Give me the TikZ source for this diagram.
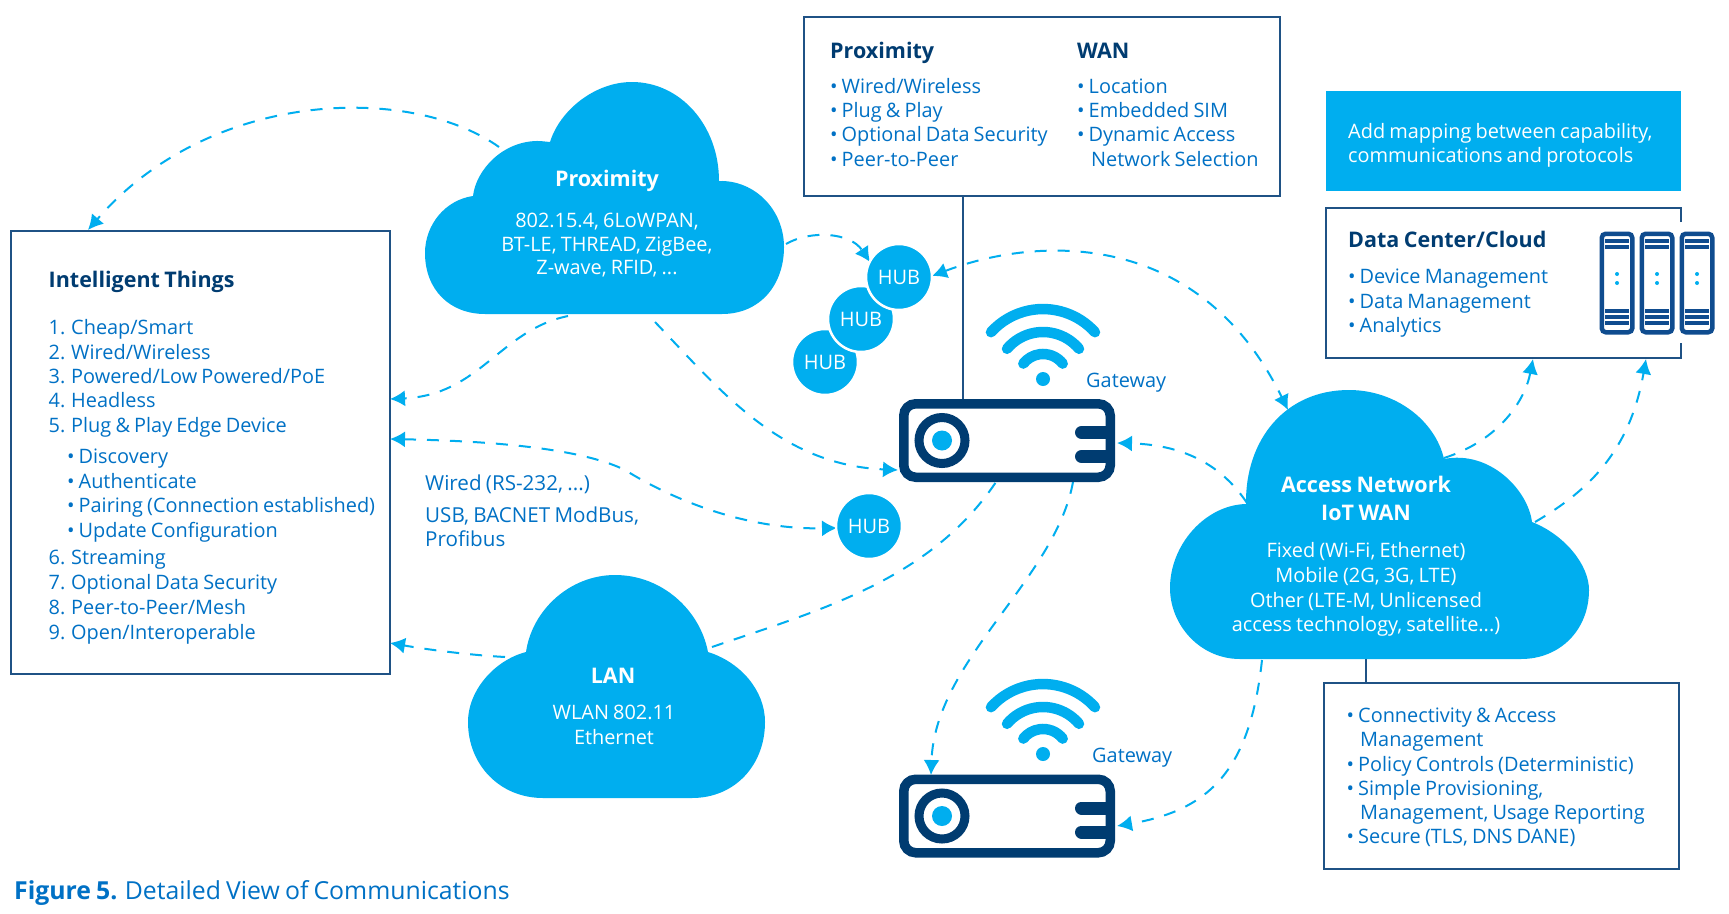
\documentclass[tikz,border=0pt]{standalone}
\usepackage{fontspec}
\setmainfont[WordSpace=0.8]{Open Sans}
\usetikzlibrary{arrows.meta}
\definecolor{sky}{HTML}{00AEEF}
\definecolor{navy}{HTML}{003C71}
\definecolor{edge}{HTML}{1F5285}
\definecolor{ink}{HTML}{0071C5}
\definecolor{rack}{HTML}{0F4C8F}
\newcounter{tl}
\newcommand\tline[4]{\stepcounter{tl}\node[#1] (tl\arabic{tl}) at (#2,#3) {#4};}
\newcommand\bul[1]{\makebox[11.5pt][l]{•}#1}
\newcommand\wifiicon[3]{%
  \begin{scope}[shift={(#2,#3)}]
    \fill[sky] (0,0) ellipse [x radius=7pt,y radius=7pt];
    \draw[wave] (52,-46.8) arc[start angle=42,end angle=138,radius=70pt];
    \draw[wave] (36,-30.2) arc[start angle=40,end angle=140,radius=47pt];
    \draw[wave] (19.7,-15.4) arc[start angle=38,end angle=142,radius=25pt];
    \coordinate (#1) at (0,0);
  \end{scope}}
\newcommand\gatewayicon[3]{%
  \node[gwbox] (#1) at (#2,#3) {};
  \begin{scope}[shift={(#2,#3)}]
    \draw[navy,line width=9pt,fill=white] (-65,0) circle [radius=23pt];
    \fill[sky] (-65,0) circle [radius=10pt];
    \draw[navy,line width=13pt,line cap=round] (74.5,-8) -- (99,-8);
    \draw[navy,line width=13pt,line cap=round] (74.5,16) -- (99,16);
  \end{scope}}
\newcommand\servericon[2]{%
  \begin{scope}[shift={(#2,232)}]
    \node[rackbox] (#1) at (17,51) {};
    \foreach \sy in {9,15,79,85,91}{\draw[rack,line width=3.5pt] (5,\sy) -- (29,\sy);}
    \fill[sky] (17,42) circle [radius=2pt] (17,51) circle [radius=2pt];
  \end{scope}}
\tikzset{
  wave/.style={sky,line width=10.5pt,line cap=round},
  gwbox/.style={draw=navy,line width=9.5pt,rounded corners=12pt,fill=white,minimum width=206.5pt,minimum height=73.5pt,inner sep=0pt},
  rackbox/.style={draw=rack,line width=4.5pt,rounded corners=4pt,minimum width=30.5pt,minimum height=98.5pt,inner sep=0pt},
  panel/.style={draw=edge,line width=2pt,fill=white,inner sep=0pt},
  hubnode/.style={circle,fill=sky,draw=white,line width=2.5pt,minimum size=66pt,inner sep=0pt,text=white,font=\fontsize{20}{24}\selectfont},
  flow/.style={sky,line width=2pt,dash pattern=on 12pt off 11pt},
  tip/.style={-{Latex[length=15pt,width=16pt]}},
  twotip/.style={{Latex[length=15pt,width=16pt]}-{Latex[length=15pt,width=16pt]}},
  body/.style={anchor=base west,inner sep=0pt,text=ink,font=\fontsize{19.9}{24}\selectfont},
  head/.style={anchor=base west,inner sep=0pt,text=navy,font=\fontsize{21.5}{26}\selectfont\bfseries},
  wiredtext/.style={anchor=base west,inner sep=0pt,text=ink,font=\fontsize{20.6}{24}\selectfont},
  cloudtext/.style={anchor=base,inner sep=0pt,text=white,font=\fontsize{19.9}{24}\selectfont},
  cloudhead/.style={anchor=base,inner sep=0pt,text=white,font=\fontsize{21.5}{26}\selectfont\bfseries},
  whiteleft/.style={anchor=base west,inner sep=0pt,text=white,font=\fontsize{19.9}{24}\selectfont},
}
\begin{document}
\begin{tikzpicture}[x=1pt,y=-1pt]
\useasboundingbox (0,0) rectangle (1729,913);
\fill[white] (0,0) rectangle (1729,913);

% panels
\node[panel,minimum width=378.5pt,minimum height=443pt] (things) at (200.25,452.5) {};
\node[panel,minimum width=476pt,minimum height=179pt] (radio) at (1042,106.5) {};
\node[fill=sky,inner sep=0pt,minimum width=355pt,minimum height=100pt] (note) at (1503.5,141) {};
\node[panel,minimum width=355pt,minimum height=186pt] (access) at (1501.5,776) {};
\coordinate (dcne) at (1681,222);
\coordinate (dcse) at (1681,343);
\draw[edge,line width=2pt] (dcne) -- (1681,208) -- (1326,208) -- (1326,358) -- (1681,358) -- (dcse);

% named free ends of the connectors
\coordinate (pA) at (499,147);  \coordinate (pB) at (786,244);
\coordinate (pC) at (568,316);  \coordinate (pD) at (655,322);
\coordinate (lanR) at (712,647); \coordinate (lanL) at (505,657);
\coordinate (awA) at (1262,660); \coordinate (awB) at (1247,503);
\coordinate (awC) at (1444,458); \coordinate (awD) at (1535,522);
\coordinate (awE) at (1288,410);
\coordinate (thTop) at (88,230); \coordinate (thA) at (390,399);
\coordinate (thB) at (390,439);  \coordinate (thC) at (390,643);
\coordinate (dcA) at (1533,359); \coordinate (dcB) at (1646,359);
\coordinate (gaL) at (898,470);  \coordinate (gaR) at (1117,443);
\coordinate (gaB) at (996,482);  \coordinate (gaC) at (1073,482);
\coordinate (gbT) at (931,775);  \coordinate (gbR) at (1117,826);
\coordinate (gaLine) at (963,400);

% plain links
\draw[edge,line width=2pt] (gaLine |- radio.south) -- (gaLine);
\draw[edge,line width=2pt] (1366,655) -- (1366,683);

% dashed connectors
\draw[flow,tip] (pA) .. controls (410,84) and (210,89) .. (thTop);
\draw[flow,tip] (pB) .. controls (810,230) and (850,232) .. (870,262);
\draw[flow,tip] (pC) .. controls (500,330) and (480,395) .. (thA);
\draw[flow,tip] (pD) .. controls (720,390) and (780,465) .. (gaL);
\draw[flow,twotip] (thB) .. controls (490,441) and (580,448) .. (625,470) .. controls (665,495) and (740,530) .. (837,528);
\draw[flow] (lanR) .. controls (820,610) and (930,580) .. (gaB);
\draw[flow,tip] (lanL) .. controls (470,655) and (430,650) .. (thC);
\draw[flow,tip] (gaC) .. controls (1055,580) and (935,660) .. (gbT);
\draw[flow,tip] (awA) .. controls (1250,770) and (1210,810) .. (gbR);
\draw[flow,tip] (awB) .. controls (1225,470) and (1190,445) .. (gaR);
\draw[flow,twotip] (932,276) .. controls (1040,235) and (1200,230) .. (awE);
\draw[flow,tip] (awC) .. controls (1500,440) and (1525,400) .. (dcA);
\draw[flow,tip] (awD) .. controls (1590,490) and (1630,450) .. (dcB);

% clouds
\fill[sky] (485,314) .. controls (450,314) and (425,290) .. (425,253) .. controls (425,225) and (445,200) .. (473,196) .. controls (476,170) and (503,140) .. (540,141) -- (550,142) .. controls (560,110) and (595,82) .. (632,82) .. controls (680,82) and (719,125) .. (719,181) .. controls (755,180) and (784,210) .. (784,247) .. controls (784,285) and (760,314) .. (722,314) -- cycle;
\fill[sky] (543,798) .. controls (500,798) and (468,765) .. (468,722) .. controls (468,690) and (495,660) .. (526,652) .. controls (532,610) and (570,575) .. (615,575) .. controls (662,575) and (700,610) .. (708,652) .. controls (740,662) and (765,690) .. (765,722) .. controls (765,765) and (735,798) .. (692,798) -- cycle;
\fill[sky] (1240,659) .. controls (1200,659) and (1170,625) .. (1170,588) .. controls (1170,545) and (1205,505) .. (1246,504) .. controls (1245,440) and (1285,390) .. (1349,390) .. controls (1395,390) and (1435,420) .. (1444,459) .. controls (1490,450) and (1528,490) .. (1532,522) .. controls (1565,535) and (1589,565) .. (1589,590) .. controls (1589,630) and (1560,659) .. (1521,659) -- cycle;

% hubs
\node[hubnode] (hubC) at (825,362) {HUB};
\node[hubnode] (hubB) at (861,319) {HUB};
\node[hubnode] (hubA) at (899,277) {HUB};
\node[hubnode] (hubD) at (869,526) {HUB};

% gateways
\wifiicon{wifiA}{1043}{379}
\wifiicon{wifiB}{1043}{754}
\gatewayicon{gwA}{1007}{440.5}
\gatewayicon{gwB}{1007}{816}
\tline{body}{1086}{387}{Gateway}
\tline{body}{1092}{762}{Gateway}

% servers
\servericon{srvA}{1600}
\servericon{srvB}{1640}
\servericon{srvC}{1680}

% Intelligent Things
\tline{head}{48.5}{287}{Intelligent Things}
\tline{body}{48.5}{334}{1. Cheap/Smart}
\tline{body}{48.5}{359}{2. Wired/Wireless}
\tline{body}{48.5}{383}{3. Powered/Low Powered/PoE}
\tline{body}{48.5}{407}{4. Headless}
\tline{body}{48.5}{432}{5. Plug \& Play Edge Device}
\tline{body}{67}{463}{\bul{Discovery}}
\tline{body}{67}{488}{\bul{Authenticate}}
\tline{body}{67}{512}{\bul{Pairing (Connection established)}}
\tline{body}{67}{537}{\bul{Update Configuration}}
\tline{body}{48.5}{564}{6. Streaming}
\tline{body}{48.5}{589}{7. Optional Data Security}
\tline{body}{48.5}{614}{8. Peer-to-Peer/Mesh}
\tline{body}{48.5}{639}{9. Open/Interoperable}

% Proximity / WAN box
\tline{head}{830}{58}{Proximity}
\tline{head}{1077}{58}{WAN}
\tline{body}{830}{93}{\bul{Wired/Wireless}}
\tline{body}{830}{117}{\bul{Plug \& Play}}
\tline{body}{830}{141}{\bul{Optional Data Security}}
\tline{body}{830}{166}{\bul{Peer-to-Peer}}
\tline{body}{1077}{93}{\bul{Location}}
\tline{body}{1077}{117}{\bul{Embedded SIM}}
\tline{body}{1077}{141}{\bul{Dynamic Access}}
\tline{body}{1091}{166}{Network Selection}

% note
\tline{whiteleft}{1348}{138}{Add mapping between capability,}
\tline{whiteleft}{1348}{162}{communications and protocols}

% data center
\tline{head}{1348}{247}{Data Center/Cloud}
\tline{body}{1348}{283}{\bul{Device Management}}
\tline{body}{1348}{308}{\bul{Data Management}}
\tline{body}{1348}{332}{\bul{Analytics}}

% access box
\tline{body}{1346.5}{722}{\bul{Connectivity \& Access}}
\tline{body}{1360}{746}{Management}
\tline{body}{1346.5}{771}{\bul{Policy Controls (Deterministic)}}
\tline{body}{1346.5}{795}{\bul{Simple Provisioning,}}
\tline{body}{1360}{819}{Management, Usage Reporting}
\tline{body}{1346.5}{843}{\bul{Secure (TLS, DNS DANE)}}

% cloud labels
\tline{cloudhead}{607}{186}{Proximity}
\tline{cloudtext}{607}{227}{802.15.4, 6LoWPAN,}
\tline{cloudtext}{607}{251}{BT-LE, THREAD, ZigBee,}
\tline{cloudtext}{607}{274}{Z-wave, RFID, ...}
\tline{cloudhead}{613}{683}{LAN}
\tline{cloudtext}{614}{719}{WLAN 802.11}
\tline{cloudtext}{614}{744}{Ethernet}
\tline{cloudhead}{1366}{492}{Access Network}
\tline{cloudhead}{1366}{520}{IoT WAN}
\tline{cloudtext}{1366}{557}{Fixed (Wi-Fi, Ethernet)}
\tline{cloudtext}{1366}{582}{Mobile (2G, 3G, LTE)}
\tline{cloudtext}{1366}{607}{Other (LTE-M, Unlicensed}
\tline{cloudtext}{1366}{631}{access technology, satellite...)}

% wired labels
\tline{wiredtext}{425}{490}{Wired (RS-232, ...)}
\tline{wiredtext}{425}{522}{USB, BACNET ModBus,}
\tline{wiredtext}{425}{546}{Profibus}

% caption
\tline{anchor=base west,inner sep=0pt,text=ink,font=\fontsize{24.8}{30}\selectfont}{14}{899}{\textbf{Figure 5.} Detailed View of Communications}
\end{tikzpicture}
\end{document}
